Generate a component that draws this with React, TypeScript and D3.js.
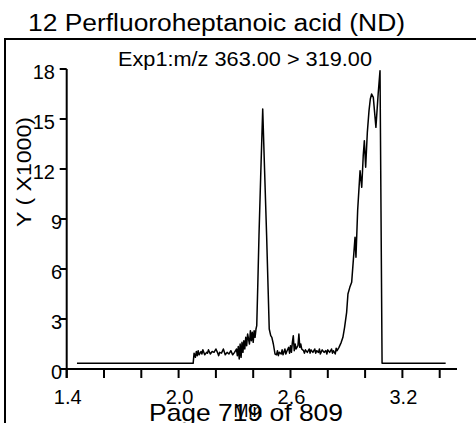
import React from 'react';
import * as d3 from 'd3';

// retention time (min) and intensity (x1000)
const times = [
  1.455, 2.078, 2.083, 2.09, 2.095, 2.1, 2.105, 2.11, 2.12, 2.125, 2.13, 2.14, 2.15, 2.155, 2.16, 2.17,
  2.18, 2.19, 2.2, 2.21, 2.215, 2.22, 2.23, 2.24, 2.25, 2.26, 2.27, 2.28, 2.29, 2.3, 2.31, 2.315,
  2.32, 2.325, 2.33, 2.335, 2.34, 2.345, 2.35, 2.355, 2.36, 2.365, 2.37, 2.38, 2.385, 2.39, 2.395, 2.4,
  2.405, 2.41, 2.415, 2.419, 2.425, 2.431, 2.44, 2.451, 2.46, 2.472, 2.48, 2.486, 2.494, 2.5, 2.508, 2.517,
  2.525, 2.53, 2.535, 2.54, 2.55, 2.555, 2.56, 2.57, 2.575, 2.58, 2.59, 2.595, 2.6, 2.605, 2.61, 2.615,
  2.62, 2.625, 2.63, 2.64, 2.645, 2.65, 2.655, 2.66, 2.67, 2.675, 2.68, 2.69, 2.7, 2.705, 2.71, 2.72,
  2.73, 2.735, 2.74, 2.75, 2.755, 2.76, 2.77, 2.78, 2.79, 2.795, 2.8, 2.81, 2.82, 2.825, 2.83, 2.84,
  2.845, 2.85, 2.86, 2.872, 2.881, 2.89, 2.901, 2.908, 2.918, 2.928, 2.94, 2.946, 2.951, 2.96, 2.973, 2.982,
  2.99, 2.996, 3.003, 3.012, 3.021, 3.028, 3.035, 3.044, 3.051, 3.058, 3.07, 3.08, 3.091, 3.432,
];
const intensity = [
  0.34, 0.34, 0.95, 0.7, 1.05, 0.8, 1.1, 0.85, 1.05, 0.9, 1.15, 0.85, 1.0, 0.95, 1.15, 0.9,
  1.05, 1.0, 1.2, 0.95, 0.8, 1.0, 0.95, 1.2, 0.85, 1.0, 0.9, 1.1, 0.85, 1.0, 1.2, 0.8,
  1.35, 0.6, 1.5, 0.7, 1.6, 1.0, 1.7, 1.2, 1.9, 1.4, 2.1, 1.5, 2.3, 1.7, 2.2, 1.6,
  2.3, 1.9, 2.4, 2.6, 5.2, 8.0, 11.5, 15.6, 12.3, 8.0, 4.8, 2.4, 2.0, 1.9, 1.5, 0.9,
  0.85, 1.1, 0.8, 1.0, 0.9, 1.15, 0.85, 1.2, 0.9, 1.05, 1.3, 0.95, 1.4, 1.0, 1.6, 2.0,
  1.1, 1.5, 1.2, 1.4, 2.1, 1.3, 1.5, 1.2, 1.1, 0.95, 1.15, 1.0, 1.2, 0.95, 1.15, 1.0,
  1.2, 0.95, 1.1, 1.0, 1.2, 0.9, 1.15, 1.0, 1.1, 0.9, 1.15, 1.0, 1.2, 0.95, 1.1, 0.9,
  1.25, 1.1, 1.3, 1.6, 1.9, 2.5, 3.4, 4.5, 4.9, 5.2, 7.0, 7.9, 6.7, 9.5, 11.9, 10.9,
  12.8, 13.7, 12.1, 14.2, 15.5, 16.2, 16.5, 16.3, 15.4, 14.5, 16.5, 17.9, 0.34, 0.34,
];

const yTicks = [0, 3, 6, 9, 12, 15, 18];
const xTicks = [1.4, 1.6, 1.8, 2.0, 2.2, 2.4, 2.6, 2.8, 3.0, 3.2, 3.4];
const xLabels = [1.4, 2.0, 2.6, 3.2];

const title = '12 Perfluoroheptanoic acid (ND)';
const subtitle = 'Exp1:m/z 363.00 > 319.00';
const yTitle = 'Y ( X1000)';
const xTitle = 'Min';
const footer = 'Page 719 of 809';

const W = 476;
const H = 423;
const font = '"Liberation Sans", Arial, sans-serif';

export default function App() {
  const x = d3.scaleLinear().domain([1.4, 3.4]).range([66.7, 439.7]);
  const y = d3.scaleLinear().domain([0, 18]).range([369, 69]);

  const pts: [number, number][] = times.map((t, i) => [t, intensity[i]]);
  const line = d3
    .line<[number, number]>()
    .x((d) => x(d[0]))
    .y((d) => y(d[1]));

  const axisX0 = x(1.4);
  const axisXEnd = 457;

  return (
    <svg
      width={W}
      height={H}
      style={{ position: 'absolute', left: 0, top: 0, background: '#fff' }}
      fontFamily={font}
    >
      {/* frame */}
      <line x1={4} x2={W} y1={39} y2={39} stroke="#000" strokeWidth={2} />
      <line x1={5} x2={5} y1={38} y2={H} stroke="#000" strokeWidth={2} />

      <text x={28} y={31} fontSize={23} textLength={377} lengthAdjust="spacingAndGlyphs">
        {title}
      </text>
      <text x={118} y={66} fontSize={20} textLength={254} lengthAdjust="spacingAndGlyphs">
        {subtitle}
      </text>

      {/* y axis */}
      <line x1={axisX0} x2={axisX0} y1={y(18)} y2={378} stroke="#000" strokeWidth={2} />
      {yTicks.map((t) => (
        <g key={'y' + t}>
          <line x1={axisX0 - 7} x2={axisX0} y1={y(t)} y2={y(t)} stroke="#000" strokeWidth={2} />
          <text
            x={t >= 10 ? 55 : 62}
            y={y(t) + 10}
            fontSize={20}
            textAnchor="end"
          >
            {t}
          </text>
        </g>
      ))}
      <text
        transform={`translate(31,172) rotate(-90)`}
        fontSize={20}
        textAnchor="middle"
        textLength={110}
        lengthAdjust="spacingAndGlyphs"
      >
        {yTitle}
      </text>

      {/* x axis */}
      <line x1={axisX0 - 1} x2={axisXEnd} y1={369} y2={369} stroke="#000" strokeWidth={2} />
      {xTicks.map((t) => (
        <line key={'x' + t} x1={x(t)} x2={x(t)} y1={369} y2={378} stroke="#000" strokeWidth={2} />
      ))}
      {xLabels.map((t) => (
        <text key={'xl' + t} x={x(t) + 1} y={404} fontSize={20} textAnchor="middle">
          {t.toFixed(1)}
        </text>
      ))}
      <text x={248} y={417} fontSize={18} textAnchor="middle">
        {xTitle}
      </text>

      {/* trace */}
      <path d={line(pts) ?? ''} fill="none" stroke="#000" strokeWidth={1.5} strokeLinejoin="round" />

      <text x={149} y={421} fontSize={24} textLength={194} lengthAdjust="spacingAndGlyphs">
        {footer}
      </text>
    </svg>
  );
}
